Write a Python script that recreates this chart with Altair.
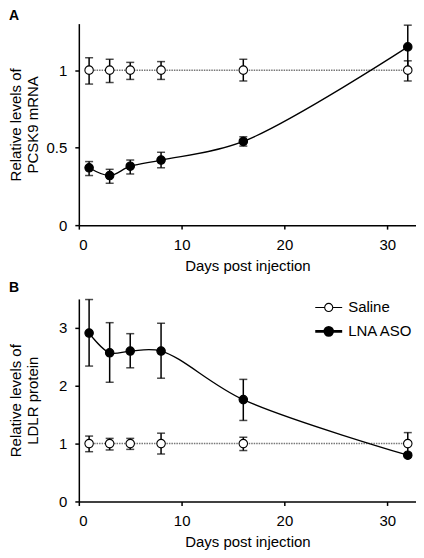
import altair as alt
import pandas as pd

days = [1, 3, 5, 8, 16, 32]
groups = ["Saline", "LNA ASO"]

# Panel A: PCSK9 mRNA
a_saline_mean = [1.0, 1.0, 1.0, 1.0, 1.0, 1.0]
a_saline_lo = [0.91, 0.92, 0.94, 0.94, 0.93, 0.93]
a_saline_hi = [1.08, 1.07, 1.05, 1.055, 1.07, 1.06]
a_lna_mean = [0.37, 0.32, 0.38, 0.42, 0.54, 1.15]
a_lna_lo = [0.32, 0.27, 0.33, 0.37, 0.51, 1.01]
a_lna_hi = [0.41, 0.36, 0.42, 0.47, 0.57, 1.29]

# Panel B: LDLR protein
b_saline_mean = [1.0, 1.0, 1.0, 1.0, 1.0, 1.0]
b_saline_lo = [0.86, 0.89, 0.90, 0.82, 0.88, 0.81]
b_saline_hi = [1.13, 1.09, 1.09, 1.18, 1.11, 1.19]
b_lna_mean = [2.91, 2.57, 2.60, 2.60, 1.76, 0.80]
b_lna_lo = [2.34, 2.06, 2.31, 2.13, 1.40, 0.77]
b_lna_hi = [3.49, 3.09, 2.90, 3.08, 2.11, 0.83]

x_ticks = [0, 10, 20, 30]
a_y_ticks = [0, 0.5, 1]
b_y_ticks = [0, 1, 2, 3]

FONT = "Liberation Sans"


def make_df(s_mean, s_lo, s_hi, l_mean, l_lo, l_hi):
    rows = []
    for i, d in enumerate(days):
        rows.append({"day": d, "group": "Saline", "mean": s_mean[i], "lo": s_lo[i], "hi": s_hi[i]})
    for i, d in enumerate(days):
        rows.append({"day": d, "group": "LNA ASO", "mean": l_mean[i], "lo": l_lo[i], "hi": l_hi[i]})
    return pd.DataFrame(rows)


LEG_PATH = ("M-1,0L-0.3,0M0.3,0L1,0"
            "M0.3,0A0.3,0.3,0,1,1,-0.3,0A0.3,0.3,0,1,1,0.3,0Z")


def panel(df, label, ytitle, ydomain, yticks, show_legend, height, toffset):
    x = alt.X("day:Q", scale=alt.Scale(domain=[0, 32.8], nice=False, zero=False),
              axis=alt.Axis(values=x_ticks, title="Days post injection", format="d"))
    y_axis = alt.Axis(values=yticks, title=ytitle, format="~g", titleX=-70, titleY=height / 2,
                      titleBaseline="top", titleAlign="center", titleAngle=-90,
                      titleLineHeight=17)
    y_scale = alt.Scale(domain=ydomain, nice=False)
    y = alt.Y("mean:Q", scale=y_scale, axis=y_axis)
    base = alt.Chart(df)

    saline_line = base.transform_filter(alt.datum.group == "Saline").mark_line(
        color="#777777", strokeWidth=1.5, strokeDash=[1.5, 1]
    ).encode(x=x, y=y)
    lna_line = base.transform_filter(alt.datum.group == "LNA ASO").mark_line(
        color="black", strokeWidth=1.3, interpolate="catmull-rom"
    ).encode(x=x, y=y)
    err = base.mark_errorbar(
        ticks={"size": 8, "color": "black", "thickness": 1.5},
        rule={"strokeWidth": 1.5, "color": "black"},
    ).encode(x=x, y=alt.Y("lo:Q", scale=y_scale, axis=y_axis), y2="hi:Q", detail="group:N")

    if show_legend:
        legend = alt.Legend(
            title=None, orient="none", legendX=243, legendY=1,
            symbolType=LEG_PATH, symbolSize=729, symbolStrokeColor="black",
            symbolStrokeWidth={"expr": "datum.value === 'LNA ASO' ? 2.6 : 1.1"},
            labelFontSize=15, labelFont=FONT, labelColor="black",
            rowPadding=6, labelOffset=12,
        )
    else:
        legend = None
    pts = base.mark_circle(size=72, stroke="black", strokeWidth=1.1, opacity=1).encode(
        x=x, y=y,
        fill=alt.Fill("group:N", scale=alt.Scale(domain=groups, range=["white", "black"]),
                      legend=legend),
    )
    return alt.layer(saline_line, lna_line, err, pts).properties(
        width=338, height=height,
        title=alt.TitleParams(label, anchor="start", frame="bounds", offset=toffset,
                              fontSize=14, fontWeight="bold", font=FONT, color="black"),
    )


df_a = make_df(a_saline_mean, a_saline_lo, a_saline_hi, a_lna_mean, a_lna_lo, a_lna_hi)
df_b = make_df(b_saline_mean, b_saline_lo, b_saline_hi, b_lna_mean, b_lna_lo, b_lna_hi)

pa = panel(df_a, "A", ["Relative levels of", "PCSK9 mRNA"], [0, 1.3], a_y_ticks, False, 202, 1)
pb = panel(df_b, "B", ["Relative levels of", "LDLR protein"], [0, 3.5], b_y_ticks, True, 203, 4)

chart = alt.vconcat(pa, pb, spacing=7).resolve_scale(fill="independent").resolve_legend(
    fill="independent"
).properties(padding=0).configure_view(stroke=None).configure_axis(
    grid=False, domainColor="black", domainWidth=1.5, tickColor="black", tickWidth=1.5,
    tickSize=4, labelColor="black", labelFont=FONT, labelFontSize=15, titleFont=FONT,
    titleFontSize=15, titleFontWeight="normal", titleColor="black", labelPadding=8,
    titlePadding=6,
)

chart.save("out.html", embed_options={"renderer": "svg", "actions": False})
